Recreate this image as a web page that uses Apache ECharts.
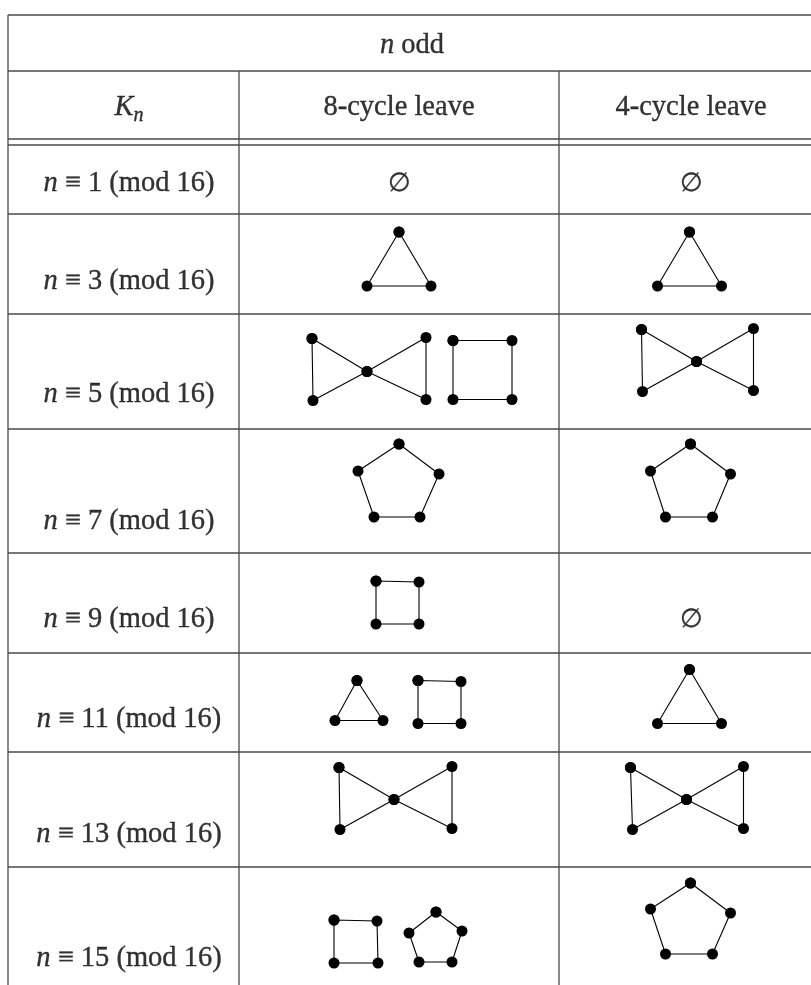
<!DOCTYPE html>
<html>
<head>
<meta charset="utf-8">
<script src="https://cdn.jsdelivr.net/npm/echarts/dist/echarts.min.js"></script>
<style>
  html, body { margin: 0; padding: 0; background: #fff; }
  #chart { width: 811px; height: 985px; }
</style>
</head>
<body>
<div id="chart"></div>
<script>
// ---- data ----
var residues = [1, 3, 5, 7, 9, 11, 13, 15];
var headCols = ["8-cycle leave", "4-cycle leave"];

// node offsets of each leave graph (from the cell centre)
// every cell holds a list of closed walks
var leave8 = [
  [],
  [[[0, -32], [-32, 22], [32, 22]]],
  [[[-87, -33], [-32, 0], [27, -34], [27, 28], [-32, 0], [-86, 29]],
   [[54, -31], [113, -31], [113, 28], [54, 28]]],
  [[[0, -47], [40, -17], [21, 26], [-25, 26], [-41, -20]]],
  [[[-23, -22], [20, -21], [20, 21], [-23, 21]]],
  [[[-42, -22], [-16, 18], [-64, 18]],
   [[19, -22], [62, -21], [62, 21], [19, 21]]],
  [[[-60, -42], [-5, -10], [53, -43], [53, 19], [-5, -10], [-59, 20]]],
  [[[-65, -6], [-22, -5], [-21, 37], [-65, 37]],
   [[37, -14], [63, 5], [53, 36], [20, 36], [10, 7]]]
];
var leave4 = [
  [],
  [[[-1, -32], [-33, 22], [31, 22]]],
  [[[-49, -42], [6, -10], [63, -43], [63, 19], [6, -10], [-48, 20]]],
  [[[0, -47], [40, -17], [22, 26], [-25, 26], [-40, -20]]],
  [],
  [[[-1, -33], [31, 21], [-33, 21]]],
  [[[-60, -42], [-4, -10], [53, -43], [53, 19], [-4, -10], [-58, 20]]],
  [[[0, -43], [40, -13], [22, 28], [-25, 28], [-40, -17]]]
];

// ---- layout ----
var W = 811, H = 985;
var colX = [8, 239, 559, 822];
var headY = [15, 71, 139, 145];
var rowY = [145, 214, 314, 429, 553, 653, 752, 867, 985];
var textX = [129, 399, 691];
var textY = [184, 282, 395, 522, 620, 720, 835, 959];
var ruleColor = "#4a4a4a";
var font = "'Liberation Serif', 'DejaVu Serif', serif";

var series = [];

function rule(pts) {
  series.push({
    type: "line", data: pts, symbol: "none", silent: true,
    lineStyle: { color: ruleColor, width: 1.3 }, z: 1
  });
}

// horizontal rules
headY.concat(rowY.slice(1, -1)).forEach(function (y) {
  rule([[colX[0], y], [W, y]]);
});
// vertical rules
rule([[colX[0], headY[0]], [colX[0], H]]);
rule([[colX[1], headY[1]], [colX[1], H]]);
rule([[colX[2], headY[1]], [colX[2], H]]);

function shape(cx, cy, walk) {
  var pts = walk.map(function (p) { return [cx + p[0], cy + p[1]]; });
  pts.push(pts[0]);
  series.push({
    type: "line", data: pts, symbol: "circle", symbolSize: 11,
    showSymbol: true, showAllSymbol: true, silent: true,
    itemStyle: { color: "#000" },
    lineStyle: { color: "#000", width: 1.1 }, z: 3
  });
}

var cellX = [(colX[1] + colX[2]) / 2, (colX[2] + colX[3]) / 2];
[leave8, leave4].forEach(function (leaves, c) {
  leaves.forEach(function (walks, r) {
    var cy = (rowY[r] + rowY[r + 1]) / 2;
    walks.forEach(function (w) { shape(cellX[c], cy, w); });
  });
});

// texts
var texts = [];
texts.push({ value: [412, 46], text: "{i|n} odd" });
texts.push({ value: [textX[0], 108], text: "{i|K}{s|n}" });
headCols.forEach(function (h, i) {
  texts.push({ value: [textX[i + 1], 108], text: h });
});
residues.forEach(function (r, i) {
  texts.push({ value: [textX[0], textY[i]], text: "{i|n} ≡ " + r + " (mod 16)" });
  if (leave8[i].length === 0) texts.push({ value: [textX[1], textY[i]], text: "{e|∅}" });
  if (leave4[i].length === 0) texts.push({ value: [textX[2], textY[i]], text: "{e|∅}" });
});

var ink = { color: "#000", textBorderColor: "#000", textBorderWidth: 0.35 };
series.push({
  type: "scatter", symbolSize: 0, silent: true, z: 5,
  data: texts.map(function (t) { return { value: t.value, name: t.text }; }),
  label: Object.assign({
    show: true, position: "inside",
    fontFamily: font, fontSize: 28.5,
    formatter: function (p) { return p.name; },
    rich: {
      i: Object.assign({ fontStyle: "italic", fontFamily: font, fontSize: 28.5 }, ink),
      s: Object.assign({ fontStyle: "italic", fontFamily: font, fontSize: 20, padding: [15, 0, 0, 0] }, ink),
      e: Object.assign({ fontFamily: font, fontSize: 26 }, ink)
    }
  }, ink)
});

var chart = echarts.init(document.getElementById("chart"), null, { renderer: "canvas" });
chart.setOption({
  animation: false,
  backgroundColor: "#fff",
  grid: { left: 0, right: 0, top: 0, bottom: 0 },
  xAxis: { type: "value", min: 0, max: W, show: false },
  yAxis: { type: "value", min: 0, max: H, inverse: true, show: false },
  series: series
});
</script>
</body>
</html>
